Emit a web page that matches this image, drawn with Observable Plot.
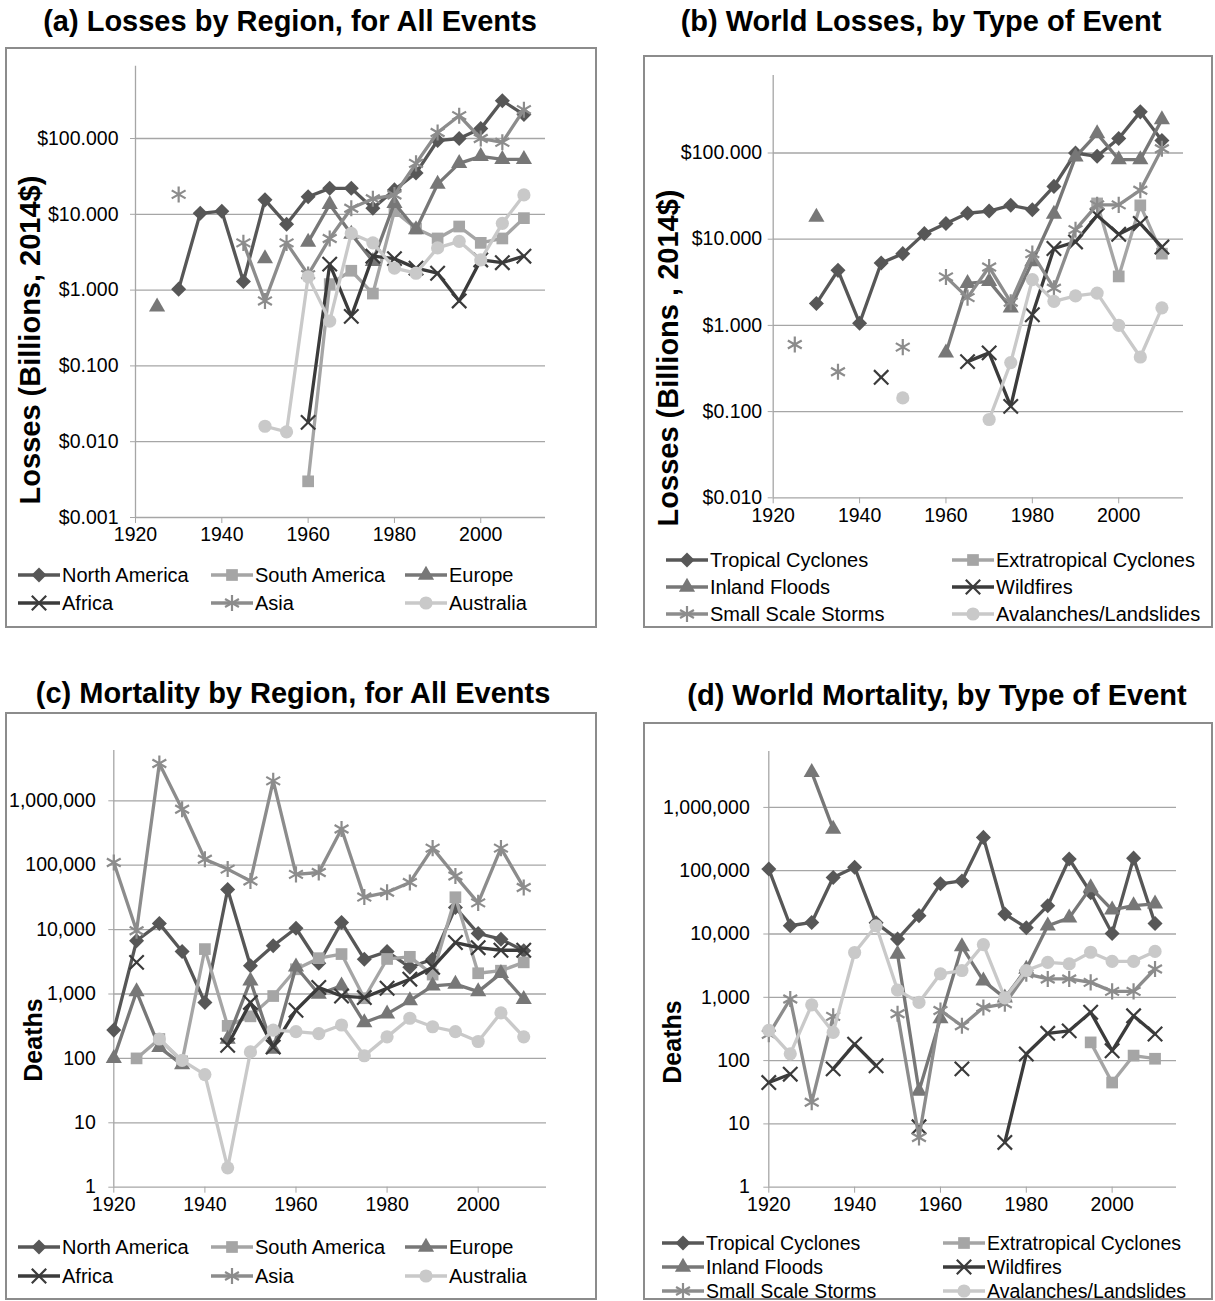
<!DOCTYPE html>
<html><head><meta charset="utf-8">
<script src="https://cdn.jsdelivr.net/npm/d3@7"></script>
<script src="https://cdn.jsdelivr.net/npm/@observablehq/plot@0.6"></script>
<style>
body{margin:0;background:#fff;font-family:"Liberation Sans",Arial,sans-serif;color:#000;}
#root{position:relative;width:1215px;height:1301px;overflow:hidden;background:#fff;}
.box{position:absolute;border:2px solid #8c8c8c;box-sizing:border-box;}
.title{position:absolute;font-weight:bold;font-size:29px;line-height:1;white-space:nowrap;transform:translate(-50%,-50%);}
.ytitle{position:absolute;font-weight:bold;line-height:1;white-space:nowrap;transform:translate(-50%,-50%) rotate(-90deg);}
.chart{position:absolute;}
.li{position:absolute;display:flex;align-items:center;white-space:nowrap;height:24px;font-size:20px;}
.li svg{margin-right:2px;}
</style></head>
<body><div id="root"></div>
<script>
// ---------- data ----------
const years = [1920,1925,1930,1935,1940,1945,1950,1955,1960,1965,1970,1975,1980,1985,1990,1995,2000,2005,2010];
const regions = ["North America","South America","Europe","Africa","Asia","Australia"];
const eventTypes = ["Tropical Cyclones","Extratropical Cyclones","Inland Floods","Wildfires","Small Scale Storms","Avalanches/Landslides"];
const seriesColors = ["#575757","#a5a5a5","#777777","#3b3b3b","#8c8c8c","#c9c9c9"];
const seriesSymbols = ["diamond","square","triangle","times","asterisk","circle"];
const yearTicks = [1920,1940,1960,1980,2000];
const lossTicksA = [0.001,0.01,0.1,1,10,100];
const lossTicksB = [0.01,0.1,1,10,100];
const deathTicks = [1,10,100,1000,10000,100000,1000000];

// (a) losses by region, billions 2014$
const lossNorthAmerica = [null,null,1.03,10.3,11,1.3,15.5,7.4,17,22,22,12,21,35,94,100,135,315,207];
const lossSouthAmerica = [null,null,null,null,null,null,null,null,0.003,1.2,1.8,0.9,11,6.5,4.8,6.9,4.2,4.8,8.9];
const lossEurope       = [null,0.6,null,null,null,null,2.6,null,4.3,13.5,5.5,2.4,14,6.3,25,47,58,53,53];
const lossAfrica       = [null,null,null,null,null,null,null,null,0.018,2.2,0.45,2.8,2.6,1.95,1.67,0.72,2.5,2.3,2.8];
const lossAsia         = [null,null,18.3,null,null,4.2,0.72,4.2,1.6,4.8,12,16,18,47,120,200,100,89,240];
const lossAustralia    = [null,null,null,null,null,null,0.016,0.0135,1.5,0.39,5.6,4.2,1.95,1.67,3.6,4.4,2.5,7.6,18];

// (b) world losses by type of event
const lossTropical      = [null,null,1.79,4.35,1.06,5.3,6.8,11.6,15.2,20,21.2,24.7,22,41,100,91.5,147,300,140];
const lossExtratropical = [null,null,null,null,null,null,null,null,null,null,null,null,null,null,null,26,3.7,24.7,6.8];
const lossInlandFloods  = [null,null,18,null,null,null,null,null,0.48,3.07,3.24,1.6,5.5,19.5,90,168,84,84,244];
const lossWildfires     = [null,null,null,null,null,0.25,null,null,null,0.38,0.48,0.115,1.33,7.8,9.3,18.9,11.4,15.2,8.1];
const lossSmallStorms   = [null,0.6,null,0.29,null,null,0.56,null,3.65,2.1,4.75,1.86,6.8,2.7,12.9,25,25,37,112];
const lossAvalanches    = [null,null,null,null,null,null,0.144,null,null,null,0.081,0.37,3.4,1.9,2.2,2.37,1.0,0.43,1.6];

// (c) mortality by region
const deathNorthAmerica = [275,6700,12400,4560,738,42000,2740,5600,10500,3000,12900,3470,4560,2600,3470,22000,8700,7100,4700];
const deathSouthAmerica = [null,100,200,90,4980,320,450,930,2420,3600,4170,860,3500,3780,2000,31800,2100,2300,3100];
const deathEurope       = [100,1090,148,80,null,200,1600,140,2650,1000,1340,360,490,790,1340,1420,1090,2090,830];
const deathAfrica       = [null,3100,null,null,null,160,740,150,560,1260,930,880,1230,1700,2600,6300,5240,4780,4780];
const deathAsia         = [110000,9600,3800000,740000,124000,87000,57000,2040000,72000,77000,365000,32000,38000,54000,184000,68000,26000,184000,45000];
const deathAustralia    = [null,null,200,93,56,2,126,275,260,243,330,110,216,420,310,260,183,510,216];

// (d) world mortality by type of event
const deathTropical      = [106000,13500,15200,78000,113000,15000,8300,19500,62000,69000,336000,20700,12600,28000,153000,45000,10200,158000,14700];
const deathExtratropical = [null,null,null,null,null,null,null,null,null,null,null,null,null,null,null,194,45,120,107];
const deathInlandFloods  = [null,null,3570000,455000,null,null,4800,33,460,6300,1820,980,2800,13500,18000,54000,24000,28000,30000];
const deathWildfires     = [45,61,null,74,182,83,null,9,null,74,null,5.1,127,270,295,580,143,510,263];
const deathSmallStorms   = [260,940,22,500,null,null,550,6.1,620,355,690,790,2350,1950,1950,1720,1240,1240,2800];
const deathAvalanches    = [300,128,760,280,5100,13500,1300,830,2350,2650,6800,980,2650,3560,3370,5150,3690,3700,5300];

// ---------- helpers ----------
const lossFmt = d => "$" + d.toFixed(3);
const deathFmt = d3.format(",");
const markerStyle = {
  diamond:  {symbol:"square", rotate:45, r:6.0, filled:true},
  square:   {symbol:"square", rotate:0, r:6.6, filled:true},
  triangle: {symbol:"triangle", rotate:0, r:6.0, filled:true},
  times:    {symbol:"times", rotate:0, r:6.6, filled:false},
  asterisk: {symbol:"asterisk", rotate:0, r:7.6, filled:false},
  circle:   {symbol:"circle", rotate:0, r:6.6, filled:true}
};
const d3Sym = {square:d3.symbolSquare, triangle:d3.symbolTriangle, times:d3.symbolTimes, asterisk:d3.symbolAsterisk, circle:d3.symbolCircle};

const root = document.getElementById("root");
function addDiv(cls, text, css){
  const d = document.createElement("div");
  d.className = cls; d.textContent = text;
  Object.assign(d.style, css);
  root.appendChild(d); return d;
}

function panel(cfg){
  const {boxL, boxT, boxR, boxB, px0, pxEnd, pyTop, pyBot, yLo, perDec, ticks, fmt, tickPad, names, series} = cfg;
  const yHi = yLo * Math.pow(10, (pyBot - pyTop) / perDec);
  addDiv("box", "", {left:boxL+"px", top:boxT+"px", width:(boxR-boxL)+"px", height:(boxB-boxT)+"px"});
  const width = boxR - boxL;
  const height = Math.round(pyBot - boxT + 45);
  const marks = [
    Plot.ruleY(ticks, {stroke:"#a6a6a6", strokeWidth:1.3}),
    Plot.ruleX([1920], {stroke:"#a6a6a6", strokeWidth:1.3}),
    Plot.axisY({ticks, tickFormat: fmt, tickSize:5, tickPadding:tickPad, stroke:"#a6a6a6", fill:"#000", label:null}),
    Plot.axisX({ticks: yearTicks, tickFormat: d => String(d), tickSize:6, tickPadding:4, stroke:"#a6a6a6", fill:"#000", label:null})
  ];
  names.forEach((name, i) => {
    const rows = years.map((yr, j) => ({year: yr, v: series[i][j]}));
    const ms = markerStyle[seriesSymbols[i]];
    marks.push(Plot.line(rows, {x:"year", y:"v", stroke: seriesColors[i], strokeWidth:3.3, strokeLinejoin:"round"}));
    const pts = rows.filter(d => d.v != null);
    marks.push(Plot.dot(pts, {x:"year", y:"v", symbol: ms.symbol, r: ms.r, rotate: ms.rotate,
      fill: ms.filled ? seriesColors[i] : "none",
      stroke: ms.filled ? "none" : seriesColors[i], strokeWidth: ms.filled ? 0 : 2.2}));
  });
  const chart = Plot.plot({
    width, height,
    marginLeft: px0 - boxL, marginRight: boxR - pxEnd, marginTop: pyTop - boxT, marginBottom: height - (pyBot - boxT),
    x: {domain:[1920, 2015], label:null},
    y: {type:"log", domain:[yLo, yHi], label:null},
    style: {fontFamily:"'Liberation Sans', Arial, sans-serif", fontSize: "19.5px", color:"#000", background:"transparent", overflow:"visible"},
    marks
  });
  chart.classList.add("chart");
  chart.style.left = boxL + "px"; chart.style.top = boxT + "px";
  root.appendChild(chart);

  addDiv("title", cfg.title, {left: cfg.titleX+"px", top: cfg.titleY+"px"});
  addDiv("ytitle", cfg.ylabel, {left: cfg.ylabX+"px", top: cfg.ylabY+"px", fontSize: cfg.ylabFont+"px"});

  // legend
  names.forEach((name, i) => {
    const col = i % cfg.legCols.length, row = Math.floor(i / cfg.legCols.length);
    const ms = markerStyle[seriesSymbols[i]];
    const size = Math.PI * ms.r * ms.r;
    const path = d3.symbol(d3Sym[ms.symbol], size)();
    const c = seriesColors[i];
    const svg = `<svg width="42" height="24" viewBox="0 0 42 24"><line x1="0" y1="12" x2="42" y2="12" stroke="${c}" stroke-width="3.3"/>` +
      `<path d="${path}" transform="translate(21,12) rotate(${ms.rotate})" fill="${ms.filled ? c : "none"}" stroke="${ms.filled ? "none" : c}" stroke-width="2.2"/></svg>`;
    const d = document.createElement("div");
    d.className = "li";
    d.style.left = cfg.legCols[col] + "px";
    d.style.top = (cfg.legRows[row] - 12) + "px";
    d.style.fontSize = cfg.legFont + "px";
    d.innerHTML = svg + "<span></span>";
    d.querySelector("span").textContent = name;
    root.appendChild(d);
  });
}

panel({boxL:5, boxT:47, boxR:597, boxB:628, px0:135, pxEnd:545, pyTop:65.7, pyBot:517, yLo:0.001, perDec:75.8,
  ticks: lossTicksA, fmt: lossFmt, tickPad:12, names: regions,
  series:[lossNorthAmerica,lossSouthAmerica,lossEurope,lossAfrica,lossAsia,lossAustralia],
  title:"(a) Losses by Region, for All Events", titleX:290, titleY:21,
  ylabel:"Losses (Billions, 2014$)", ylabX:30, ylabY:340, ylabFont:29,
  legCols:[18,211,405], legRows:[575,603], legFont:20});

panel({boxL:643, boxT:55, boxR:1213, boxB:628, px0:772.7, pxEnd:1183, pyTop:75, pyBot:497.3, yLo:0.01, perDec:86.2,
  ticks: lossTicksB, fmt: lossFmt, tickPad:6, names: eventTypes,
  series:[lossTropical,lossExtratropical,lossInlandFloods,lossWildfires,lossSmallStorms,lossAvalanches],
  title:"(b) World Losses, by Type of Event", titleX:921, titleY:21,
  ylabel:"Losses (Billions , 2014$)", ylabX:668, ylabY:358, ylabFont:29,
  legCols:[666,952], legRows:[560,587,614], legFont:20});

panel({boxL:5, boxT:712, boxR:597, boxB:1300, px0:113.3, pxEnd:546, pyTop:750, pyBot:1186.7, yLo:1, perDec:64.4,
  ticks: deathTicks, fmt: deathFmt, tickPad:13, names: regions,
  series:[deathNorthAmerica,deathSouthAmerica,deathEurope,deathAfrica,deathAsia,deathAustralia],
  title:"(c) Mortality by Region, for All Events", titleX:293, titleY:693,
  ylabel:"Deaths", ylabX:33, ylabY:1040, ylabFont:25,
  legCols:[18,211,405], legRows:[1247,1276], legFont:20});

panel({boxL:643, boxT:722, boxR:1213, boxB:1300, px0:768.3, pxEnd:1176, pyTop:751, pyBot:1186.7, yLo:1, perDec:63.3,
  ticks: deathTicks, fmt: deathFmt, tickPad:14, names: eventTypes,
  series:[deathTropical,deathExtratropical,deathInlandFloods,deathWildfires,deathSmallStorms,deathAvalanches],
  title:"(d) World Mortality, by Type of Event", titleX:937, titleY:695,
  ylabel:"Deaths", ylabX:672, ylabY:1042, ylabFont:25,
  legCols:[662,943], legRows:[1243,1267,1291], legFont:19.5});
</script>
</body></html>
